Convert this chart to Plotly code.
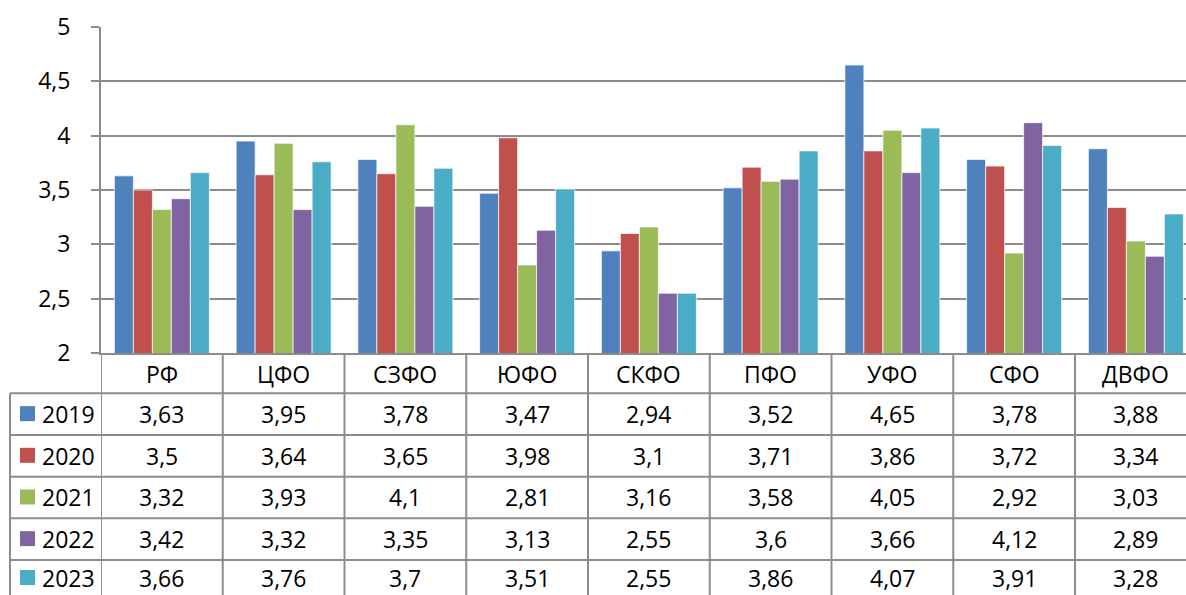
import plotly.graph_objects as go

categories = ["РФ", "ЦФО", "СЗФО", "ЮФО", "СКФО", "ПФО", "УФО", "СФО", "ДВФО"]
years = ["2019", "2020", "2021", "2022", "2023"]
v2019 = [3.63, 3.95, 3.78, 3.47, 2.94, 3.52, 4.65, 3.78, 3.88]
v2020 = [3.5, 3.64, 3.65, 3.98, 3.1, 3.71, 3.86, 3.72, 3.34]
v2021 = [3.32, 3.93, 4.1, 2.81, 3.16, 3.58, 4.05, 2.92, 3.03]
v2022 = [3.42, 3.32, 3.35, 3.13, 2.55, 3.6, 3.66, 4.12, 2.89]
v2023 = [3.66, 3.76, 3.7, 3.51, 2.55, 3.86, 4.07, 3.91, 3.28]
series = [v2019, v2020, v2021, v2022, v2023]
colors = ["#4F81BD", "#C0504D", "#9BBB59", "#8064A2", "#4BACC6"]
y_ticks = [2, 2.5, 3, 3.5, 4, 4.5, 5]

W, H = 1186, 595
FONT = "Open Sans"
FS = 23
GRID = "#8c8c8c"

def py(p):  # pixel y -> paper y
    return 1 - p / H

def px(p):
    return p / W

plot_left, plot_top, plot_bottom = 101, 27, 353
cat_w = 121.75
x_idx = list(range(len(categories)))

fig = go.Figure()
for name, vals, col in zip(years, series, colors):
    fig.add_trace(go.Bar(
        x=x_idx, y=vals, name=name,
        marker=dict(color=col, line=dict(color="rgba(255,255,255,0.7)", width=1)),
        showlegend=False,
    ))

shapes = []
annotations = []

row_top = 393.3
row_h = 41.67

for i in range(5):
    y = row_top + i * row_h
    shapes.append(dict(type="line", xref="paper", yref="paper",
                       x0=px(10), x1=1, y0=py(y), y1=py(y),
                       line=dict(color=GRID, width=2)))
shapes.append(dict(type="line", xref="paper", yref="paper",
                   x0=px(10), x1=px(10), y0=py(row_top), y1=0,
                   line=dict(color=GRID, width=2)))
for i in range(len(categories) + 1):
    shapes.append(dict(type="line", xref="x", yref="paper",
                       x0=-0.5 + i, x1=-0.5 + i, y0=py(plot_bottom), y1=0,
                       line=dict(color=GRID, width=2)))

for i, c in enumerate(categories):
    annotations.append(dict(x=i, y=py((plot_bottom + row_top) / 2 + 1), xref="x", yref="paper",
                            text=c, showarrow=False, font=dict(family=FONT, size=FS, color="#000"),
                            xanchor="center", yanchor="middle"))

for r, (name, vals, col) in enumerate(zip(years, series, colors)):
    yc = row_top + (r + 0.5) * row_h
    yt = min(yc, H - 17)
    shapes.append(dict(type="rect", xref="paper", yref="paper",
                       x0=px(20), x1=px(35), y0=py(yt + 7), y1=py(yt - 8),
                       fillcolor=col, line=dict(width=0)))
    annotations.append(dict(x=px(40), y=py(yt), xref="paper", yref="paper",
                            text=name, showarrow=False, font=dict(family=FONT, size=FS, color="#000"),
                            xanchor="left", yanchor="middle"))
    for i, v in enumerate(vals):
        txt = ("%g" % v).replace(".", ",")
        annotations.append(dict(x=i, y=py(yt), xref="x", yref="paper",
                                text=txt, showarrow=False, font=dict(family=FONT, size=FS, color="#000"),
                                xanchor="center", yanchor="middle"))

fig.update_layout(
    width=W, height=H,
    margin=dict(l=0, r=0, t=0, b=0, pad=0),
    paper_bgcolor="white", plot_bgcolor="white",
    barmode="group", bargap=0.22, bargroupgap=0,
    separators=", ",
    font=dict(family=FONT, size=FS, color="#000"),
    xaxis=dict(domain=[px(plot_left), 1], range=[-0.5, -0.5 + (W - plot_left) / cat_w],
               showticklabels=False, showgrid=False, zeroline=False, automargin=False,
               showline=True, linecolor=GRID, linewidth=2, ticks=""),
    yaxis=dict(domain=[py(plot_bottom), py(plot_top)], range=[2, 5], automargin=False,
               tickvals=y_ticks, showgrid=True, gridcolor=GRID, gridwidth=2,
               zeroline=False, showline=True, linecolor=GRID, linewidth=2,
               ticks="outside", ticklen=8, tickcolor=GRID, tickwidth=2,
               ticklabelstandoff=16,
               tickfont=dict(family=FONT, size=FS, color="#000")),
    shapes=shapes,
    annotations=annotations,
)

fig.write_html("out.html", config={"displayModeBar": False},
               post_script="document.body.style.margin='0px';")
